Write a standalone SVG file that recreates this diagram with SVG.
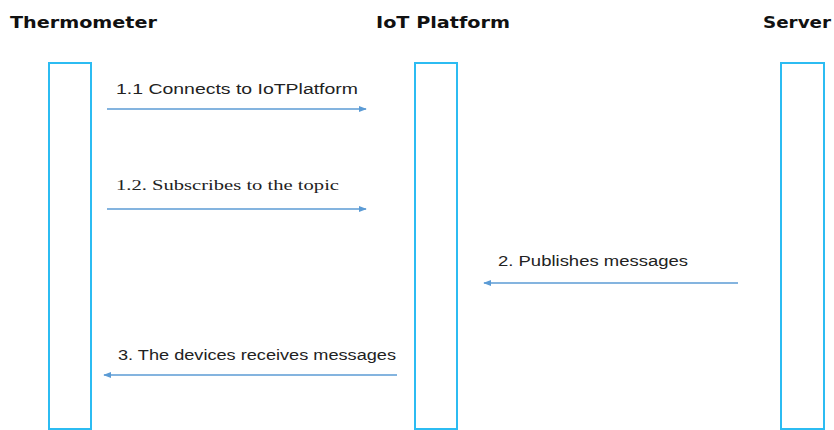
<svg xmlns="http://www.w3.org/2000/svg" width="834" height="430" viewBox="0 0 834 430">
  <style>
    .title { font-family: "DejaVu Sans", "Liberation Sans", sans-serif; font-weight: bold; font-size: 16px; fill: #111; }
    .label { font-family: "Liberation Sans", "DejaVu Sans", sans-serif; font-size: 14px; fill: #222; }
    .serif { font-family: "Liberation Serif", "DejaVu Serif", serif; font-size: 15px; fill: #222; }
    .life { fill: #fff; stroke: #2cbcf2; stroke-width: 2; }
    .msg { stroke: #5b9bd5; stroke-width: 1.6; fill: none; marker-end: url(#arrow); }
  </style>
  <defs>
    <marker id="arrow" viewBox="0 0 10 10" refX="9" refY="5" markerWidth="5" markerHeight="5" orient="auto" markerUnits="strokeWidth">
      <path d="M0,1 L10,5 L0,9 Z" fill="#5b9bd5"/>
    </marker>
  </defs>
  <rect width="834" height="430" fill="#fff"/>

  <g id="thermometer">
    <text class="title" x="10" y="28" textLength="147" lengthAdjust="spacingAndGlyphs">Thermometer</text>
    <rect class="life" x="49" y="63" width="42" height="366"/>
  </g>
  <g id="iot-platform">
    <text class="title" x="376" y="28" textLength="134" lengthAdjust="spacingAndGlyphs">IoT Platform</text>
    <rect class="life" x="415" y="63" width="42" height="366"/>
  </g>
  <g id="server">
    <text class="title" x="763" y="28" textLength="68" lengthAdjust="spacingAndGlyphs">Server</text>
    <rect class="life" x="781" y="63" width="43" height="366"/>
  </g>

  <g id="connectors">
    <line class="msg" x1="107" y1="109" x2="366" y2="109"/>
    <text class="label" x="116" y="94" textLength="242" lengthAdjust="spacingAndGlyphs">1.1 Connects  to IoTPlatform</text>

    <line class="msg" x1="107" y1="209" x2="366" y2="209"/>
    <text class="serif" x="116" y="190" textLength="223" lengthAdjust="spacingAndGlyphs">1.2. Subscribes to the topic</text>

    <line class="msg" x1="738" y1="283" x2="484" y2="283"/>
    <text class="label" x="498" y="266" textLength="190" lengthAdjust="spacingAndGlyphs">2. Publishes messages</text>

    <line class="msg" x1="397" y1="375" x2="104" y2="375"/>
    <text class="label" x="118" y="360" textLength="278" lengthAdjust="spacingAndGlyphs">3. The devices receives messages</text>
  </g>
</svg>
